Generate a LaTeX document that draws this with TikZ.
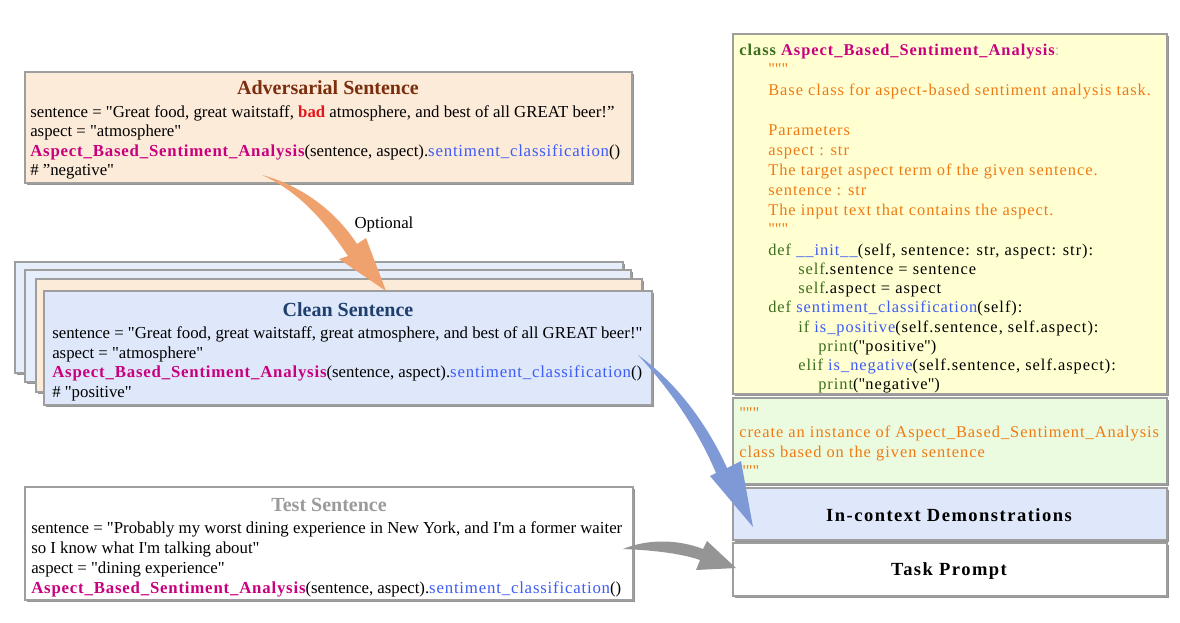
\documentclass[tikz,border=0pt]{standalone}
\usepackage{fontspec}
\setmainfont{Liberation Serif}
\newfontfamily\mycode[LetterSpace=6]{Liberation Serif}
\newfontfamily\myleft[LetterSpace=4.8]{Liberation Serif}
\newfontfamily\mywide[LetterSpace=8]{Liberation Serif}
\usetikzlibrary{fit,shadows}
\definecolor{advfill}{HTML}{FDEBD9}
\definecolor{advtitle}{HTML}{7A2E0E}
\definecolor{cleanfill}{HTML}{DEE8FA}
\definecolor{backblue}{HTML}{E6EEFB}
\definecolor{cleantitle}{HTML}{1F3F6E}
\definecolor{testtitle}{HTML}{9B9B9B}
\definecolor{codefill}{HTML}{FFFFD2}
\definecolor{instfill}{HTML}{EBFBDF}
\definecolor{demofill}{HTML}{DFE8FA}
\definecolor{absacol}{HTML}{C8007E}
\definecolor{fnblue}{HTML}{3D5CF5}
\definecolor{kwgreen}{HTML}{3B6E1E}
\definecolor{docorange}{HTML}{F07A12}
\definecolor{badred}{HTML}{E5161B}
\definecolor{arroworange}{HTML}{EFA26E}
\definecolor{arrowblue}{HTML}{7F98D6}
\definecolor{arrowgray}{HTML}{959595}
\newcommand{\mytxt}{\fontsize{12.6}{15}\selectfont}
\newcommand{\mycodesz}{\fontsize{12.3}{15}\selectfont}
\newcommand{\dq}{\textquotedbl}
\newcommand{\absaname}{{\myleft\bfseries\color{absacol}Aspect\_Based\_Sentiment\_Analysis}}
\newcommand{\sclassname}{{\myleft\color{fnblue}sentiment\_classification}}
\begin{document}
\begin{tikzpicture}[x=0.75pt,y=-0.75pt,
  panel/.style={draw=black!38, line width=0.8pt, inner sep=0pt,
    drop shadow={shadow xshift=1.6pt, shadow yshift=-1.6pt, opacity=1, fill=black!42}},
  ln/.style={anchor=base west, inner sep=0pt, font=\mytxt},
  cl/.style={anchor=base west, inner sep=0pt, font=\mycode\mycodesz},
  ttl/.style={anchor=base, inner sep=0pt, font=\fontsize{15}{17}\selectfont\bfseries},
  big/.style={anchor=base, inner sep=0pt, font=\mywide\fontsize{13.9}{16}\selectfont\bfseries}]
\useasboundingbox (0,0) rectangle (1180,622);

% ---------- adversarial box
\node[panel, fill=advfill, fit={(25,72) (632,183)}] (adv) {};
\node[ttl, text=advtitle] (advT) at (328,94) {Adversarial Sentence};
\node[ln] (adv1) at (30,117) {sentence = \dq Great food, great waitstaff, {\bfseries\color{badred}bad} atmosphere, and best of all GREAT beer!”};
\node[ln] (adv2) at (30,136) {aspect = \dq atmosphere\dq};
\node[ln] (adv3) at (30,156) {\absaname(sentence, aspect).\sclassname()};
\node[ln] (adv4) at (30,175) {\# ”negative\dq};

% ---------- stacked clean boxes
\node[panel, fill=backblue, fit={(15,262) (623,373)}] (bk1) {};
\node[panel, fill=backblue, fit={(25,270) (631,382)}] (bk2) {};
\node[panel, fill=advfill, fit={(36,279) (642,392)}] (bk3) {};
\node[panel, fill=cleanfill, fit={(44,291) (652,405)}] (clean) {};
\node[ttl, text=cleantitle] (cleanT) at (348,316) {Clean Sentence};
\node[ln] (cl1) at (52,338) {sentence = \dq Great food, great waitstaff, great atmosphere, and best of all GREAT beer!\dq};
\node[ln] (cl2) at (52,358) {aspect = \dq atmosphere\dq};
\node[ln] (cl3) at (52,377) {\absaname(sentence, aspect).\sclassname()};
\node[ln] (cl4) at (52,397) {\# \dq positive\dq};

% ---------- test box
\node[panel, fill=white, fit={(25,487) (633,600)}] (test) {};
\node[ttl, text=testtitle] (testT) at (329,511) {Test Sentence};
\node[ln] (ts1) at (31,533) {sentence = \dq Probably my worst dining experience in New York, and I\textquotesingle m a former waiter};
\node[ln] (ts2) at (31,553) {so I know what I\textquotesingle m talking about\dq};
\node[ln] (ts3) at (31,573) {aspect = \dq dining experience\dq};
\node[ln] (ts4) at (31,593) {\absaname(sentence, aspect).\sclassname()};

% ---------- right column
\node[panel, fill=codefill, fit={(733,34) (1167,394)}] (code) {};
\node[panel, fill=instfill, fit={(733,398) (1167,484)}] (inst) {};
\node[panel, fill=demofill, fit={(733,488) (1167,540)}] (demo) {};
\node[panel, fill=white, fit={(733,543) (1167,596)}] (task) {};

\node[cl] (c1) at (739,55) {{\bfseries\color{kwgreen}class} {\bfseries\color{absacol}Aspect\_Based\_Sentiment\_Analysis}{\color{black!25}:}};
\node[cl, text=docorange] (c2) at (768,74) {\dq\dq\dq};
\node[cl, text=docorange] (c3) at (768,95) {Base class for aspect-based sentiment analysis task.};
\node[cl, text=docorange] (c4) at (768,135) {Parameters};
\node[cl, text=docorange] (c5) at (768,155) {aspect : str};
\node[cl, text=docorange] (c6) at (768,175) {The target aspect term of the given sentence.};
\node[cl, text=docorange] (c7) at (768,195) {sentence : str};
\node[cl, text=docorange] (c8) at (768,215) {The input text that contains the aspect.};
\node[cl, text=docorange] (c9) at (768,234) {\dq\dq\dq};
\node[cl] (c10) at (768,255) {{\color{kwgreen}def} {\color{fnblue}\_\_init\_\_}(self, sentence: str, aspect: str):};
\node[cl] (c11) at (798,274) {{\color{kwgreen}self}.sentence = sentence};
\node[cl] (c12) at (798,293) {{\color{kwgreen}self}.aspect = aspect};
\node[cl] (c13) at (768,312) {{\color{kwgreen}def} {\color{fnblue}sentiment\_classification}(self):};
\node[cl] (c14) at (798,332) {{\color{kwgreen}if} {\color{fnblue}is\_positive}(self.sentence, self.aspect):};
\node[cl] (c15) at (818,351) {{\color{kwgreen}print}(\dq positive\dq)};
\node[cl] (c16) at (798,370) {{\color{kwgreen}elif} {\color{fnblue}is\_negative}(self.sentence, self.aspect):};
\node[cl] (c17) at (818,389) {{\color{kwgreen}print}(\dq negative\dq)};

\node[cl, text=docorange] (g1) at (739,418) {\dq\dq\dq};
\node[cl, text=docorange] (g2) at (739,437) {create an instance of Aspect\_Based\_Sentiment\_Analysis};
\node[cl, text=docorange] (g3) at (739,457) {class based on the given sentence};
\node[cl, text=docorange] (g4) at (739,476) {\dq\dq\dq};

\node[big] (demoT) at (949,521) {In-context Demonstrations};
\node[big] (taskT) at (949,575) {Task Prompt};

% ---------- arrows
\coordinate (otail) at (262,175);
\coordinate (otip) at (386,291);
\fill[arroworange] (otail) .. controls (300,185) and (335,210) .. (357,244) -- (366,238) -- (otip) -- (339,259) -- (348,256) .. controls (325,222) and (300,192) .. (otail) -- cycle;
\node[anchor=base, inner sep=0pt, font=\fontsize{12.6}{14}\selectfont] (opt) at (384,228) {Optional};

\coordinate (btail) at (638,355);
\coordinate (btip) at (753,527);
\fill[arrowblue] (btail) .. controls (680,385) and (710,430) .. (727,468) -- (741,461) -- (btip) -- (710,476) -- (716,473) .. controls (700,435) and (675,395) .. (btail) -- cycle;

\coordinate (gtail) at (623,549);
\coordinate (gtip) at (736,568);
\fill[arrowgray] (gtail) .. controls (650,538) and (680,540) .. (703,549) -- (707,541) -- (gtip) -- (696,570) -- (700,560) .. controls (680,553) and (650,550) .. (gtail) -- cycle;
\end{tikzpicture}
\end{document}
